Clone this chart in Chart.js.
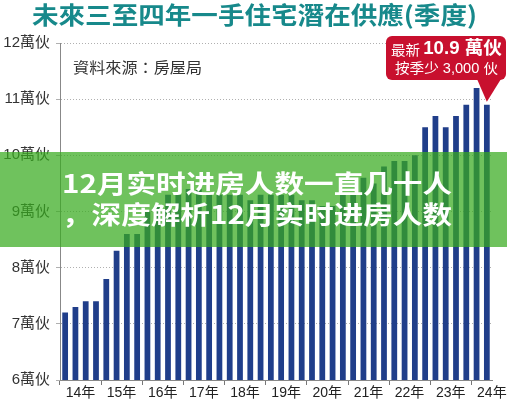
<!DOCTYPE html>
<html>
<head>
<meta charset="utf-8">
<script src="https://cdn.jsdelivr.net/npm/chart.js@4.4.1/dist/chart.umd.min.js"></script>
<style>
  html, body { margin: 0; padding: 0; background: #fff; }
  #wrap { position: relative; width: 507px; height: 400px; }
</style>
</head>
<body>
<div id="wrap"><canvas id="chart"></canvas></div>
<script>
// Quarterly potential supply of first-hand private flats (萬伙), 2014 Q1 – 2024 Q2
const quarters = [
  '14Q1','14Q2','14Q3','14Q4','15Q1','15Q2','15Q3','15Q4',
  '16Q1','16Q2','16Q3','16Q4','17Q1','17Q2','17Q3','17Q4',
  '18Q1','18Q2','18Q3','18Q4','19Q1','19Q2','19Q3','19Q4',
  '20Q1','20Q2','20Q3','20Q4','21Q1','21Q2','21Q3','21Q4',
  '22Q1','22Q2','22Q3','22Q4','23Q1','23Q2','23Q3','23Q4',
  '24Q1','24Q2'
];
const supply = [
  7.2, 7.3, 7.4, 7.4,
  7.8, 8.3, 8.6, 8.6,
  9.0, 9.1, 9.3, 9.3,
  9.4, 9.4, 9.3, 9.3,
  9.3, 9.3, 9.2, 9.3,
  9.3, 9.3, 9.3, 9.2,
  9.2, 9.1, 9.1, 9.3,
  9.3, 9.6, 9.5, 9.8,
  9.9, 9.9, 10.0, 10.5,
  10.7, 10.5, 10.7, 10.9,
  11.2, 10.9
];
const years = ['14年','15年','16年','17年','18年','19年','20年','21年','22年','23年','24年'];
const yTicks = [6, 7, 8, 9, 10, 11, 12];

const titleText = '未來三至四年一手住宅潛在供應(季度)';
const sourceText = '資料來源：房屋局';
const bannerLines = ['12月实时进房人数一直几十人', '，深度解析12月实时进房人数'];

const TC = '"Noto Sans CJK TC", "Noto Sans CJK SC", sans-serif';
const SC = '"Noto Sans CJK SC", "Noto Sans CJK TC", sans-serif';
const LAT = '"Liberation Sans", "Noto Sans CJK TC", sans-serif';

// draw text stretched horizontally to a given width
function fitText(ctx, text, x, y, width, font, color) {
  ctx.save();
  ctx.font = font;
  ctx.fillStyle = color;
  ctx.textBaseline = 'middle';
  ctx.textAlign = 'left';
  const w = ctx.measureText(text).width;
  ctx.translate(x, y);
  ctx.scale(width / w, 1);
  ctx.fillText(text, 0, 0);
  ctx.restore();
}

const decorations = {
  id: 'decorations',
  afterDraw(chart) {
    const ctx = chart.ctx;
    const xs = chart.scales.x, ys = chart.scales.y;

    // heading
    fitText(ctx, titleText, 32, 15, 445, '700 24px ' + TC, '#17898b');

    // source note
    fitText(ctx, sourceText, 73, 67, 129, '400 15px ' + TC, '#333');

    // callout for the latest quarter
    const last = supply.length - 1;
    const latest = supply[last];
    const diff = Math.round((supply[last - 1] - latest) * 10000);
    const tipX = xs.getPixelForValue(last);
    const tipY = ys.getPixelForValue(latest) - 3;
    ctx.save();
    ctx.fillStyle = '#c8102e';
    ctx.beginPath();
    ctx.roundRect(386, 36, 120, 44, 6);
    ctx.fill();
    ctx.beginPath();
    ctx.moveTo(477, 79);
    ctx.lineTo(501, 79);
    ctx.lineTo(tipX, tipY);
    ctx.closePath();
    ctx.fill();

    // first line: small label + bold figure, fitted into the box
    const p1 = '最新 ';
    const p2 = latest.toFixed(1) + ' 萬伙';
    const f1 = '400 14px ' + TC;
    const f2 = '700 18px ' + LAT;
    ctx.font = f1;
    const w1 = ctx.measureText(p1).width;
    ctx.font = f2;
    const w2 = ctx.measureText(p2).width;
    const k = 111 / (w1 + w2);
    ctx.translate(391, 0);
    ctx.scale(k, 1);
    ctx.fillStyle = '#fff';
    ctx.textBaseline = 'middle';
    ctx.textAlign = 'left';
    ctx.font = f1;
    ctx.fillText(p1, 0, 50);
    ctx.font = f2;
    ctx.fillText(p2, w1, 49);
    ctx.restore();

    fitText(ctx, '按季少 ' + diff.toLocaleString('en-US') + ' 伙', 395, 69, 103, '400 14px ' + LAT, '#fff');

    // headline banner across the plot
    ctx.save();
    ctx.fillStyle = 'rgba(55,170,30,0.72)';
    ctx.fillRect(0, 152, 507, 95);
    ctx.restore();
    fitText(ctx, bannerLines[0], 62, 183, 390, '700 25px ' + SC, '#fff');
    fitText(ctx, bannerLines[1], 62, 214, 390, '700 25px ' + SC, '#fff');
  }
};

new Chart(document.getElementById('chart'), {
  type: 'bar',
  data: {
    labels: quarters,
    datasets: [{
      data: supply,
      backgroundColor: '#203e8a',
      barPercentage: 0.56,
      categoryPercentage: 1
    }]
  },
  options: {
    responsive: true,
    maintainAspectRatio: false,
    animation: false,
    layout: { padding: { top: 43, right: 15, left: 0, bottom: 0 } },
    plugins: { legend: { display: false }, tooltip: { enabled: false } },
    scales: {
      x: {
        grid: {
          offset: true,
          drawOnChartArea: false,
          drawTicks: true,
          tickLength: 5,
          color: c => (c.index % 4 === 0 ? '#777' : 'rgba(0,0,0,0)')
        },
        border: { display: true, color: '#888', width: 1 },
        ticks: {
          autoSkip: false,
          maxRotation: 0,
          minRotation: 0,
          labelOffset: 5,
          padding: 0,
          color: '#222',
          font: { size: 14, family: LAT },
          callback: (v, i) => (i % 4 === 1 ? years[(i - 1) / 4] : '')
        },
        afterFit: s => { s.height = 20; }
      },
      y: {
        min: yTicks[0],
        max: yTicks[yTicks.length - 1],
        afterBuildTicks: s => { s.ticks = yTicks.map(v => ({ value: v })); },
        ticks: {
          color: '#333',
          padding: 6,
          font: { size: 15, family: LAT },
          callback: v => v + '萬伙'
        },
        grid: { color: '#b0b0b0', tickLength: 4 },
        border: { display: true, color: '#888', dash: [1, 2] },
        afterFit: s => { s.width = 60; }
      }
    }
  },
  plugins: [decorations]
});
</script>
</body>
</html>
